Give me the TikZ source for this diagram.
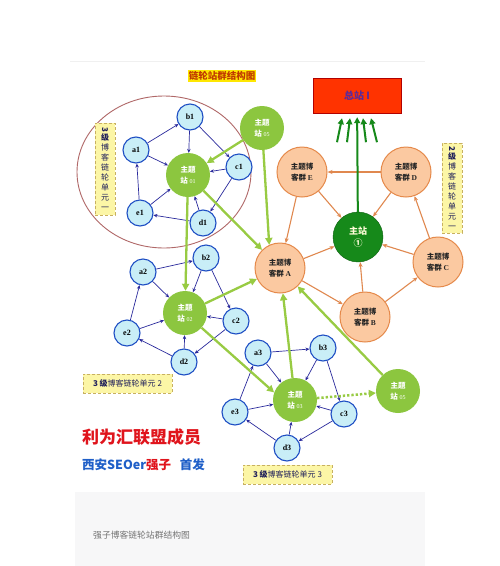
\documentclass[tikz,border=0pt]{standalone}
\usepackage{fontspec}
\setmainfont{Liberation Serif}
\newfontfamily\cjk{Noto Sans CJK SC}
\usetikzlibrary{positioning, arrows.meta, shapes}

\definecolor{leaffill}{HTML}{C9EEF7}
\definecolor{leafline}{HTML}{1F4FC4}
\definecolor{linkblue}{HTML}{2A2A9C}
\definecolor{topicgreen}{HTML}{8CC63F}
\definecolor{feedgreen}{HTML}{98CB43}
\definecolor{groupfill}{HTML}{FBC9A1}
\definecolor{groupline}{HTML}{E5894A}
\definecolor{linkorange}{HTML}{E0884F}
\definecolor{maingreen}{HTML}{16891A}
\definecolor{hqred}{HTML}{FF3300}
\definecolor{hqtext}{HTML}{5A2A9A}
\definecolor{unitfill}{HTML}{FCF6A6}
\definecolor{unitline}{HTML}{C8B060}
\definecolor{unittext}{HTML}{1E1E5A}
\definecolor{ringred}{HTML}{B06868}
\definecolor{titlered}{HTML}{C03A00}
\definecolor{sloganred}{HTML}{E0141C}
\definecolor{sloganblue}{HTML}{1F5FC8}
\definecolor{bandgray}{HTML}{F7F7F8}

\begin{document}
\begin{tikzpicture}[x=1pt, y=-1pt,
    leaf/.style={circle, draw=leafline, fill=leaffill, line width=1.1pt, minimum size=26pt, inner sep=0pt, font=\bfseries\fontsize{8}{8}\selectfont},
    topicnode/.style={circle, fill=topicgreen, minimum size=44pt, inner sep=0pt, align=center, text=white, font=\cjk\bfseries\fontsize{7.5}{11}\selectfont},
    blogroup/.style={circle, draw=groupline, fill=groupfill, line width=1pt, minimum size=50pt, inner sep=0pt, align=center, text=black!85, font=\cjk\bfseries\fontsize{7.5}{11}\selectfont},
    unitbox/.style={draw=unitline, densely dashed, fill=unitfill, inner sep=1pt, text=unittext, font=\cjk\fontsize{8}{10}\selectfont},
    bluelink/.style={-{Stealth[length=4pt, width=3.5pt]}, draw=linkblue, line width=0.7pt},
    greenfeed/.style={-{Triangle[length=7pt, width=7pt]}, draw=feedgreen, line width=2.3pt},
    orangelink/.style={-{Stealth[length=5pt, width=4pt]}, draw=linkorange, line width=1.1pt},
    upfeed/.style={-{Triangle[length=6pt, width=6pt]}, draw=maingreen, line width=2pt}
]
    \useasboundingbox[fill=white] (0,0) rectangle (500,566);
    \draw[black!6] (70,61) -- (425,61);
    \fill[bandgray] (75,492) rectangle (425,566);

    % Title and headquarters
    \node (title) [fill=yellow!90!orange, text=titlered, inner sep=1pt, font=\cjk\bfseries\fontsize{9.5}{10}\selectfont] at (222,76) {链轮站群结构图};
    \node (hq) [draw=red!70!black, fill=hqred, minimum width=88pt, minimum height=35pt, text=hqtext, font=\cjk\bfseries\fontsize{10}{10}\selectfont] at (357,95.5) {总站 I};

    % Unit one
    \node (ring) [ellipse, draw=ringred, line width=0.9pt, minimum width=174pt, minimum height=152pt] at (164,172) {};
    \node (b1) [leaf] at (190,117) {b1};
    \node (a1) [leaf] at (136,150) {a1};
    \node (c1) [leaf] at (239,167) {c1};
    \node (e1) [leaf] at (140,213) {e1};
    \node (d1) [leaf] at (203,223) {d1};
    \node (s1) [topicnode] at (188,175) {主题\\站 {\rmfamily\mdseries\fontsize{6}{6}\selectfont 01}};

    % Unit two
    \node (a2) [leaf] at (143,272) {a2};
    \node (b2) [leaf] at (206,258) {b2};
    \node (c2) [leaf] at (236,321) {c2};
    \node (e2) [leaf] at (127,333) {e2};
    \node (d2) [leaf] at (184,362) {d2};
    \node (s2) [topicnode] at (185,313) {主题\\站 {\rmfamily\mdseries\fontsize{6}{6}\selectfont 02}};

    % Unit three
    \node (a3) [leaf] at (258,353) {a3};
    \node (b3) [leaf] at (323,348) {b3};
    \node (c3) [leaf] at (344,414) {c3};
    \node (e3) [leaf] at (235,412) {e3};
    \node (d3) [leaf] at (287,448) {d3};
    \node (s3) [topicnode] at (295,400) {主题\\站 {\rmfamily\mdseries\fontsize{6}{6}\selectfont 03}};

    % Extra topic sites
    \node (s5a) [topicnode] at (262,128) {主题\\站 {\rmfamily\mdseries\fontsize{6}{6}\selectfont 05}};
    \node (s5b) [topicnode] at (398,391) {主题\\站 {\rmfamily\mdseries\fontsize{6}{6}\selectfont 05}};

    % Blog groups and main site
    \node (gE) [blogroup] at (302,172) {主题博\\客群 {\rmfamily\bfseries E}};
    \node (gD) [blogroup] at (406,172) {主题博\\客群 {\rmfamily\bfseries D}};
    \node (gA) [blogroup] at (280,268) {主题博\\客群 {\rmfamily\bfseries A}};
    \node (gC) [blogroup] at (438,262) {主题博\\客群 {\rmfamily\bfseries C}};
    \node (gB) [blogroup] at (365,317) {主题博\\客群 {\rmfamily\bfseries B}};
    \node (hub) [circle, draw=maingreen!70!black, fill=maingreen, minimum size=50pt, inner sep=0pt, align=center, text=yellow!15, font=\cjk\bfseries\fontsize{9}{12}\selectfont] at (358,237) {主站\\①};

    % Unit labels
    \node (u1) [unitbox, align=center, minimum width=20pt, minimum height=92pt] at (105,169) {\rotatebox{-90}{\textbf{3}}\\\textbf{级}\\博\\客\\链\\轮\\单\\元\\一};
    \node (u4) [unitbox, align=center, minimum width=20pt, minimum height=90pt] at (452,188) {\rotatebox{-90}{\textbf{2}}\\\textbf{级}\\博\\客\\链\\轮\\单\\元\\一};
    \node (u2) [unitbox, minimum width=89pt, minimum height=19pt] at (127.5,383.5) {\textbf{3 级}博客链轮单元 2};
    \node (u3) [unitbox, minimum width=89pt, minimum height=19pt] at (287.5,474.5) {\textbf{3 级}博客链轮单元 3};

    % Slogan and caption
    \node (slogan) [anchor=west, inner sep=0pt, text=sloganred, font=\cjk\bfseries\fontsize{17}{17}\selectfont] at (82,437) {利为汇联盟成员};
    \node (author) [anchor=west, inner sep=0pt, text=sloganblue, font=\cjk\bfseries\fontsize{12.5}{13}\selectfont] at (82,465) {西安SEOer{\color{sloganred}强子}\hspace{0.7em}首发};
    \node (caption) [anchor=west, inner sep=0pt, text=black!55, font=\cjk\fontsize{8.8}{9}\selectfont] at (93,535) {强子博客链轮站群结构图};

    % Links inside each unit
    \foreach \n in {1,2,3} {
        \foreach \u/\v in {a/b, b/c, c/d, d/e, e/a}
            \draw[bluelink] (\u\n) -- (\v\n);
        \foreach \u in {a,b,c,d,e}
            \draw[bluelink] (\u\n) -- (s\n);
    }

    % Topic sites to blog groups
    \draw[greenfeed] (s5a) -- (s1);
    \draw[greenfeed] (s5a) -- (gA.115);
    \draw[greenfeed] (s1) -- (s2);
    \draw[greenfeed] (s1) -- (gA);
    \draw[greenfeed] (s2) -- (gA);
    \draw[greenfeed] (s2) -- (s3.160);
    \draw[greenfeed] (s3) -- (gA);
    \draw[greenfeed] (s5b) -- (gA);
    \draw[greenfeed, dotted, line width=2.5pt] (s3) -- (s5b);

    % Blog groups to main site
    \foreach \u/\v in {gE/gA, gE/hub, gD/gE, gD/hub, gC/gD, gC/hub, gB/hub, gB/gC, gA/hub, gA/gB}
        \draw[orangelink] (\u) -- (\v);

    % Main site to headquarters
    \draw[upfeed, shorten >=4pt] (hub) -- (hq);
    \foreach \dx/\tx in {-20/-15, -10/-7, 9/6, 20/14}
        \draw[upfeed] ([shift={(\dx,29)}]hq.south) -- ([shift={(\tx,5)}]hq.south);
\end{tikzpicture}
\end{document}
